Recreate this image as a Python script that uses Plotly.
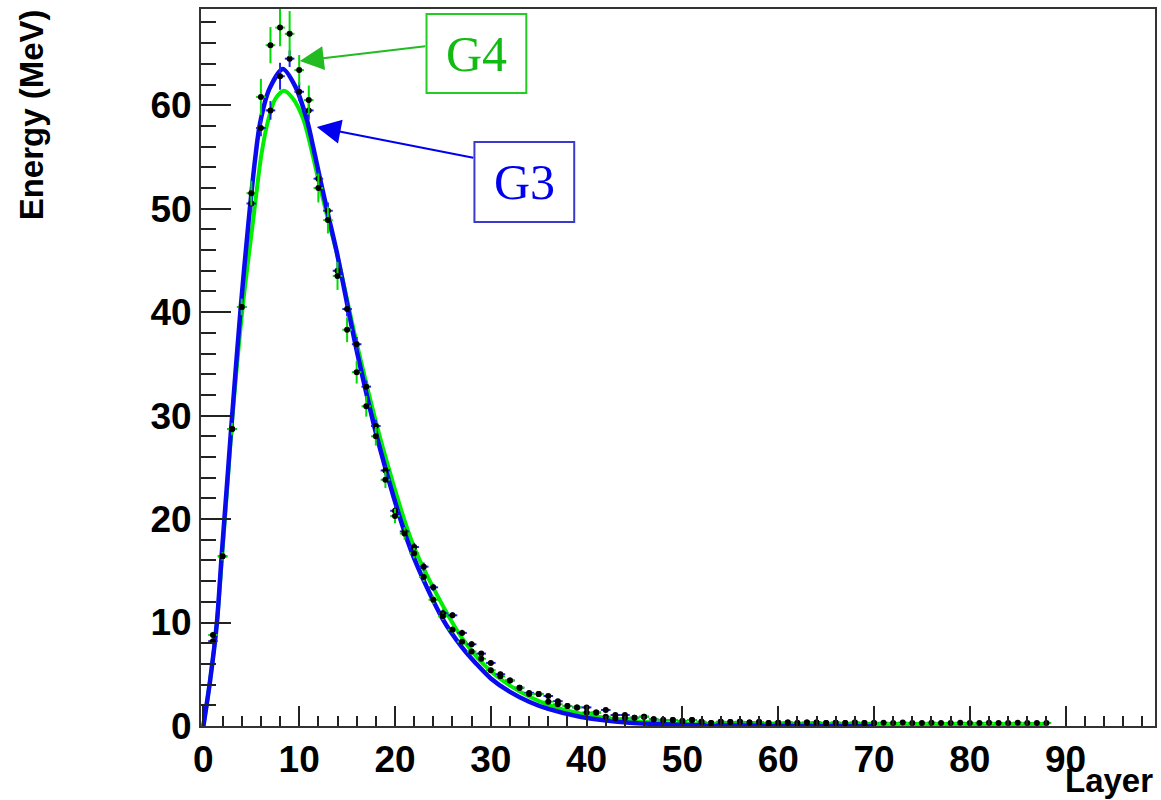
import plotly.graph_objects as go

# ---------------- data ----------------
layers_g4 = list(range(1, 89))
energy_g4 = [8.8, 16.4, 28.7, 40.5, 51.5, 60.8, 65.8, 67.5, 66.9, 63.4,
             60.5, 52.0, 48.9, 43.5, 38.3, 34.2, 30.9, 28.0, 23.8, 20.3,
             18.6, 16.7, 14.4, 12.2, 10.6, 9.3, 8.15, 7.2, 6.5, 5.4,
             4.8, 4.4, 3.7, 3.1, 3.1, 2.35, 2.1, 1.93, 1.8, 1.3,
             1.3, 0.9, 0.74, 0.77, 0.8, 0.9, 0.65, 0.58, 0.58, 0.48,
             0.58, 0.4, 0.3, 0.4, 0.38, 0.4, 0.35, 0.38, 0.3, 0.32,
             0.35, 0.3, 0.33, 0.35, 0.3, 0.32, 0.3, 0.33, 0.3, 0.3,
             0.32, 0.3, 0.33, 0.3, 0.3, 0.32, 0.3, 0.3, 0.32, 0.3,
             0.3, 0.32, 0.3, 0.3, 0.32, 0.3, 0.3, 0.3]
err_g4 = [0.3, 0.4, 0.6, 0.8, 1.2, 1.75, 1.75, 1.8, 2.2, 1.45,
          1.4, 1.4, 1.3, 1.35, 1.2, 1.1, 1.0, 0.9, 0.8, 0.7,
          0.6, 0.5, 0.45, 0.4, 0.35, 0.35, 0.3, 0.3, 0.3, 0.25,
          0.25, 0.25, 0.2, 0.2, 0.2, 0.2, 0.2, 0.15, 0.15, 0.15,
          0.15, 0.15, 0.15, 0.12, 0.12, 0.12, 0.12, 0.1, 0.1, 0.1,
          0.1, 0.1, 0.1, 0.1, 0.1, 0.1, 0.1, 0.1, 0.1, 0.1,
          0.1, 0.1, 0.1, 0.1, 0.1, 0.1, 0.1, 0.1, 0.1, 0.1,
          0.1, 0.1, 0.1, 0.1, 0.1, 0.1, 0.1, 0.1, 0.1, 0.1,
          0.1, 0.1, 0.1, 0.1, 0.1, 0.1, 0.1, 0.1]

layers_g3 = list(range(1, 71))
energy_g3 = [8.2, 16.4, 28.7, 40.5, 50.5, 57.8, 59.5, 62.8, 64.5, 61.3,
             59.5, 52.9, 49.8, 44.0, 40.3, 36.9, 32.8, 29.0, 24.7, 20.8,
             18.8, 17.3, 15.4, 13.4, 10.9, 10.7, 9.0, 7.9, 7.0, 6.1,
             5.0, 4.4, 3.7, 3.2, 3.1, 2.9, 2.4, 1.93, 1.8, 1.8,
             1.3, 1.55, 1.06, 1.06, 0.8, 0.9, 0.65, 0.58, 0.58, 0.48,
             0.58, 0.4, 0.3, 0.4, 0.38, 0.4, 0.35, 0.38, 0.3, 0.32,
             0.35, 0.3, 0.33, 0.35, 0.3, 0.32, 0.3, 0.33, 0.3, 0.3]
err_g3 = [0.25, 0.35, 0.5, 0.6, 0.8, 0.8, 0.9, 1.3, 0.8, 0.9,
          0.9, 0.8, 0.8, 0.8, 0.7, 0.7, 0.6, 0.6, 0.5, 0.5,
          0.45, 0.4, 0.4, 0.35, 0.35, 0.3, 0.3, 0.3, 0.25, 0.25,
          0.25, 0.2, 0.2, 0.2, 0.2, 0.2, 0.15, 0.15, 0.15, 0.15,
          0.15, 0.15, 0.12, 0.12, 0.12, 0.1, 0.1, 0.1, 0.1, 0.1,
          0.1, 0.1, 0.1, 0.1, 0.1, 0.1, 0.1, 0.1, 0.1, 0.1,
          0.1, 0.1, 0.1, 0.1, 0.1, 0.1, 0.1, 0.1, 0.1, 0.1]

curve_g3_x = [0, 0.7, 1.4, 1.9, 2.5, 3.0, 3.9, 4.7, 5.4, 5.9, 6.9, 8.3, 9.6,
              10.8, 11.5, 12.2, 13.05, 13.9, 16.0, 18.5, 21.7, 25.0, 27.0, 28.5, 30,
              32, 34, 36, 39.3, 44.5, 49.7, 55, 62.7, 70]
curve_g3_y = [0, 4.4, 9.9, 16.4, 23.8, 30.0, 40.5, 48.6, 54.8, 58.2, 61.6, 63.5, 61.8,
              58.6, 55.8, 52.8, 49.3, 45.9, 36.3, 26.6, 16.9, 10.3, 7.6, 6.0, 4.6,
              3.3, 2.35, 1.65, 0.9, 0.32, 0.12, 0.05, 0.03, 0.0]

curve_g4_x = [0, 0.7, 1.4, 1.95, 2.55, 3.05, 4.1, 5.2, 6.05, 6.75, 7.5, 8.4, 9.3,
              10.45, 11.3, 12.1, 13.0, 13.95, 16.1, 18.7, 21.9, 25.6, 27.0, 28.5, 30,
              32, 34, 36, 39.3, 44.5, 49.7, 55, 62, 70, 80, 88]
curve_g4_y = [0, 4.4, 9.9, 16.4, 23.8, 30.0, 40.5, 48.9, 55.2, 58.5, 60.6, 61.4, 60.7,
              58.6, 55.6, 52.4, 49.0, 45.6, 36.6, 27.0, 17.5, 10.6, 8.5, 6.7, 5.3,
              3.9, 2.85, 2.05, 1.2, 0.5, 0.22, 0.1, 0.05, 0.03, 0.01, 0.0]

x_ticks = [0, 10, 20, 30, 40, 50, 60, 70, 80, 90]
y_ticks = [0, 10, 20, 30, 40, 50, 60]

# ---------------- style ----------------
GREEN_LINE = "#00ee00"
GREEN_ERR = "#00dd00"
GREEN_TXT = "#11bb11"
BLUE_LINE = "#0a0aee"
BLUE_ERR = "#2222ee"
BLUE_TXT = "#0000ee"
AXC = "#333333"
LABEL_FONT = "Liberation Sans, Arial, Helvetica, sans-serif"
SERIF = "Liberation Serif, Times New Roman, serif"

L, R, T, B = 201, 4, 9, 74
W, H = 1161, 800
PW, PH = W - L - R, H - T - B


def px(xp):
    return (xp - L) / PW


def py(yp):
    return (H - B - yp) / PH


fig = go.Figure()

fig.add_trace(go.Scatter(x=curve_g4_x, y=curve_g4_y, mode="lines",
                         line=dict(color=GREEN_LINE, width=4, shape="spline", smoothing=0.8),
                         showlegend=False, hoverinfo="skip"))
fig.add_trace(go.Scatter(x=curve_g3_x, y=curve_g3_y, mode="lines",
                         line=dict(color=BLUE_LINE, width=4.5, shape="spline", smoothing=0.8),
                         showlegend=False, hoverinfo="skip"))

fig.add_trace(go.Scatter(x=layers_g3, y=energy_g3, mode="markers",
                         marker=dict(color="black", size=6),
                         error_y=dict(type="data", array=err_g3, color=BLUE_ERR, thickness=2, width=0),
                         error_x=dict(type="constant", value=0.5, color=BLUE_ERR, thickness=2, width=0),
                         showlegend=False))
fig.add_trace(go.Scatter(x=layers_g4, y=energy_g4, mode="markers",
                         marker=dict(color="black", size=6),
                         error_y=dict(type="data", array=err_g4, color=GREEN_ERR, thickness=2, width=0),
                         error_x=dict(type="constant", value=0.5, color=GREEN_ERR, thickness=2, width=0),
                         showlegend=False))

tickfont = dict(family=LABEL_FONT, size=37, color="black", weight="bold")

fig.update_xaxes(range=[-0.25, 99.33], showline=True, linecolor=AXC, linewidth=2, mirror=True,
                 ticks="inside", ticklen=20, tickwidth=1.5, tickcolor="#222222",
                 tickvals=x_ticks, ticktext=[str(v) for v in x_ticks],
                 minor=dict(dtick=2, tick0=0, ticks="inside", ticklen=10, tickwidth=1.5,
                            tickcolor="#222222", showgrid=False),
                 showgrid=False, zeroline=False, tickfont=tickfont)
fig.update_yaxes(range=[0, 69.3], showline=True, linecolor=AXC, linewidth=2, mirror=True,
                 ticks="inside", ticklen=30, tickwidth=1.5, tickcolor="#222222",
                 tickvals=y_ticks, ticktext=[str(v) for v in y_ticks],
                 minor=dict(dtick=2, tick0=0, ticks="inside", ticklen=15, tickwidth=1.5,
                            tickcolor="#222222", showgrid=False),
                 showgrid=False, zeroline=False, tickfont=tickfont)

# boxes
fig.add_shape(type="rect", xref="paper", yref="paper",
              x0=px(427), x1=px(527), y0=py(93), y1=py(14),
              line=dict(color="#22cc22", width=2))
fig.add_shape(type="rect", xref="paper", yref="paper",
              x0=px(475), x1=px(575), y0=py(222), y1=py(142),
              line=dict(color="#3a3acc", width=2))

annotations = [
    dict(text="G4", x=px(477), y=py(54), xref="paper", yref="paper", showarrow=False,
         xanchor="center", yanchor="middle", font=dict(family=SERIF, size=50, color=GREEN_TXT)),
    dict(text="G3", x=px(525), y=py(182), xref="paper", yref="paper", showarrow=False,
         xanchor="center", yanchor="middle", font=dict(family=SERIF, size=50, color=BLUE_TXT)),
    dict(text="", x=px(300), y=py(61), xref="paper", yref="paper", showarrow=True,
         ax=127, ay=-15, arrowhead=2, arrowsize=2.4, arrowwidth=2, arrowcolor="#22bb22"),
    dict(text="", x=px(317), y=py(127), xref="paper", yref="paper", showarrow=True,
         ax=158, ay=31, arrowhead=2, arrowsize=2.4, arrowwidth=2, arrowcolor="#0000ee"),
    dict(text="Layer", x=px(1157), y=py(780), xref="paper", yref="paper", showarrow=False,
         xanchor="right", yanchor="middle", font=dict(family=LABEL_FONT, size=33, color="black", weight="bold")),
    dict(text="Energy (MeV)", x=px(31), y=py(115), xref="paper", yref="paper", showarrow=False,
         textangle=-90, xanchor="center", yanchor="middle",
         font=dict(family=LABEL_FONT, size=33, color="black", weight="bold")),
]
fig.update_layout(annotations=annotations)

fig.update_layout(width=W, height=H, margin=dict(l=L, r=R, t=T, b=B, pad=0),
                  paper_bgcolor="white", plot_bgcolor="white", showlegend=False)

fig.write_html("out.html")
